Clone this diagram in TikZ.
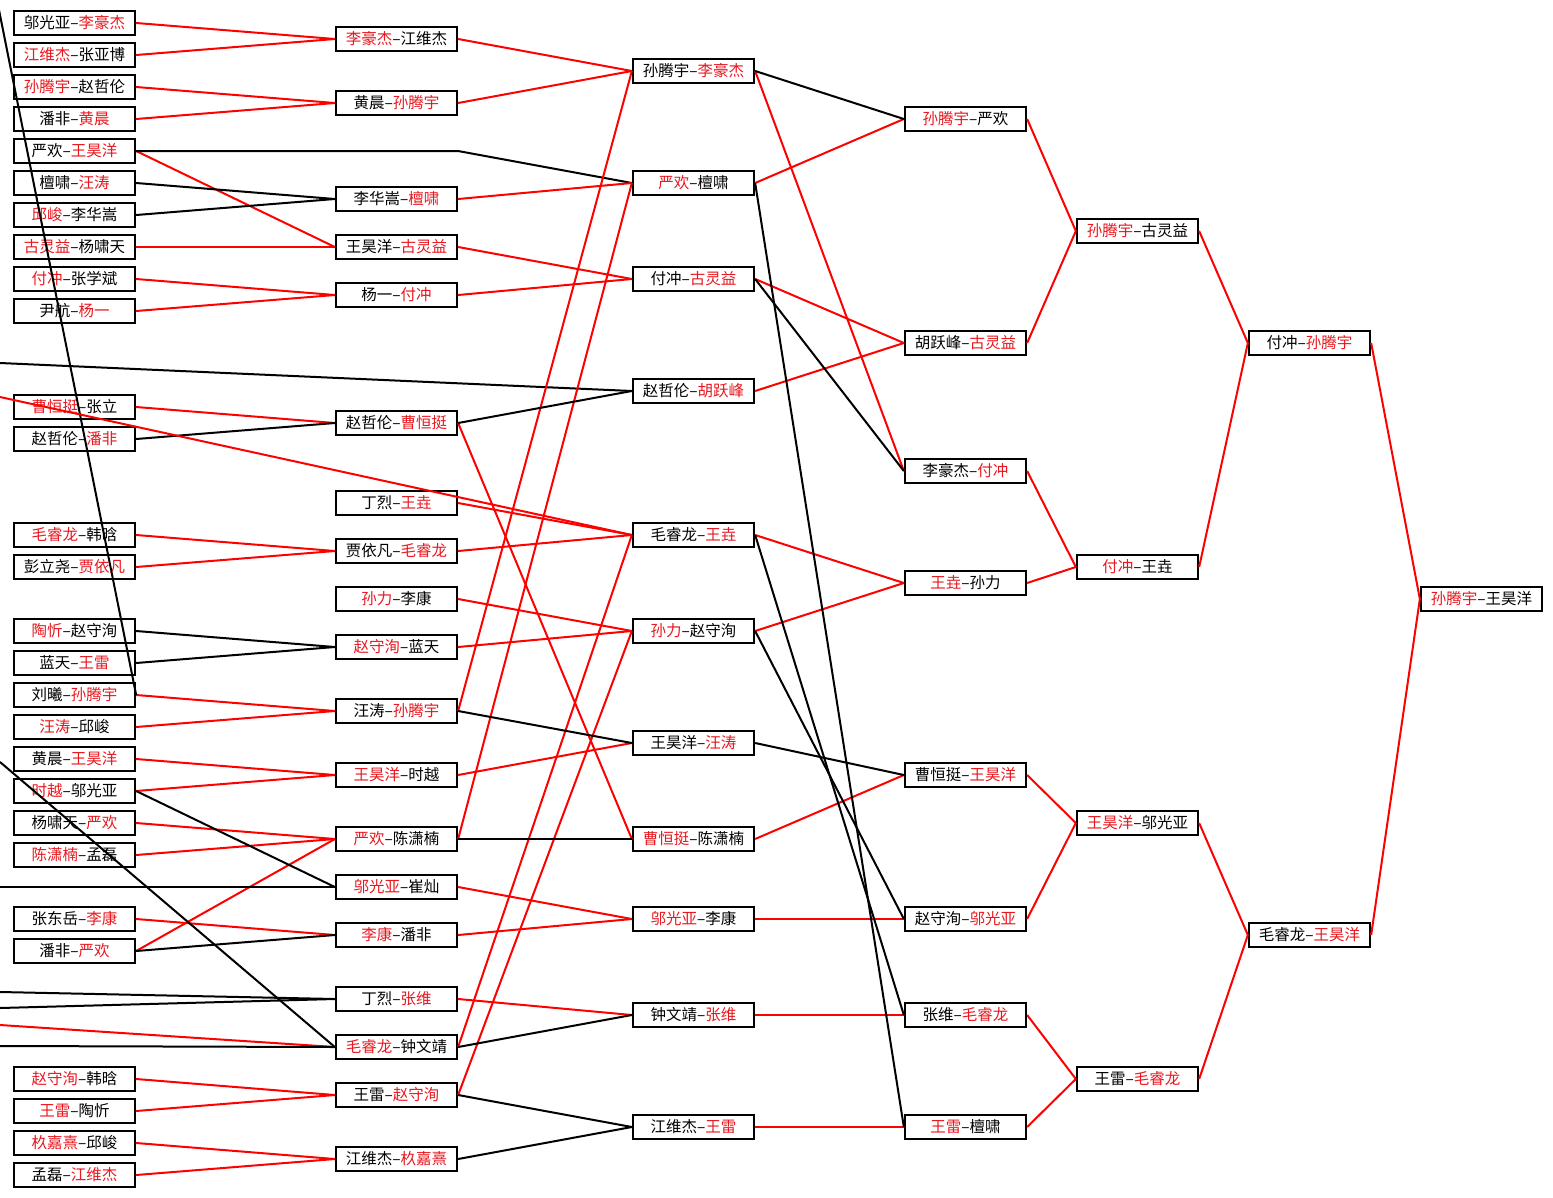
\documentclass[tikz,border=0pt]{standalone}
\usepackage{fontspec}
\setmainfont{Noto Sans CJK SC}
\definecolor{wr}{RGB}{232,24,32}
\definecolor{lr}{RGB}{255,0,0}
\newcommand{\rd}[1]{\textcolor{wr}{#1}}
\begin{document}
\begin{tikzpicture}[x=1pt,y=-1pt,
  bx/.style={draw=black, line width=2.3pt, minimum width=121pt, minimum height=23.5pt, inner sep=0pt, font=\fontsize{15.5}{17}\selectfont},
  wl/.style={draw=lr, line width=2pt},
  ll/.style={draw=black, line width=2pt}]
\useasboundingbox (0,0) rectangle (1553,1197);
\fill[white] (0,0) rectangle (1553,1197);
\clip (0,0) rectangle (1553,1197);
% column 1
\node[bx] (a0)  at (74.5,23)   {邬光亚–\rd{李豪杰}};
\node[bx] (a1)  at (74.5,55)   {\rd{江维杰}–张亚博};
\node[bx] (a2)  at (74.5,87)   {\rd{孙腾宇}–赵哲伦};
\node[bx] (a3)  at (74.5,119)  {潘非–\rd{黄晨}};
\node[bx] (a4)  at (74.5,151)  {严欢–\rd{王昊洋}};
\node[bx] (a5)  at (74.5,183)  {檀啸–\rd{汪涛}};
\node[bx] (a6)  at (74.5,215)  {\rd{邱峻}–李华嵩};
\node[bx] (a7)  at (74.5,247)  {\rd{古灵益}–杨啸天};
\node[bx] (a8)  at (74.5,279)  {\rd{付冲}–张学斌};
\node[bx] (a9)  at (74.5,311)  {尹航–\rd{杨一}};
\node[bx] (a12) at (74.5,407)  {\rd{曹恒挺}–张立};
\node[bx] (a13) at (74.5,439)  {赵哲伦–\rd{潘非}};
\node[bx] (a16) at (74.5,535)  {\rd{毛睿龙}–韩晗};
\node[bx] (a17) at (74.5,567)  {彭立尧–\rd{贾依凡}};
\node[bx] (a19) at (74.5,631)  {\rd{陶忻}–赵守洵};
\node[bx] (a20) at (74.5,663)  {蓝天–\rd{王雷}};
\node[bx] (a21) at (74.5,695)  {刘曦–\rd{孙腾宇}};
\node[bx] (a22) at (74.5,727)  {\rd{汪涛}–邱峻};
\node[bx] (a23) at (74.5,759)  {黄晨–\rd{王昊洋}};
\node[bx] (a24) at (74.5,791)  {\rd{时越}–邬光亚};
\node[bx] (a25) at (74.5,823)  {杨啸天–\rd{严欢}};
\node[bx] (a26) at (74.5,855)  {\rd{陈潇楠}–孟磊};
\node[bx] (a28) at (74.5,919)  {张东岳–\rd{李康}};
\node[bx] (a29) at (74.5,951)  {潘非–\rd{严欢}};
\node[bx] (a33) at (74.5,1079) {\rd{赵守洵}–韩晗};
\node[bx] (a34) at (74.5,1111) {\rd{王雷}–陶忻};
\node[bx] (a35) at (74.5,1143) {\rd{杦嘉熹}–邱峻};
\node[bx] (a36) at (74.5,1175) {孟磊–\rd{江维杰}};
% column 2
\node[bx] (b0)  at (396.5,39)   {\rd{李豪杰}–江维杰};
\node[bx] (b2)  at (396.5,103)  {黄晨–\rd{孙腾宇}};
\node[bx] (b5)  at (396.5,199)  {李华嵩–\rd{檀啸}};
\node[bx] (b7)  at (396.5,247)  {王昊洋–\rd{古灵益}};
\node[bx] (b8)  at (396.5,295)  {杨一–\rd{付冲}};
\node[bx] (b12) at (396.5,423)  {赵哲伦–\rd{曹恒挺}};
\node[bx] (b15) at (396.5,503)  {丁烈–\rd{王垚}};
\node[bx] (b16) at (396.5,551)  {贾依凡–\rd{毛睿龙}};
\node[bx] (b18) at (396.5,599)  {\rd{孙力}–李康};
\node[bx] (b19) at (396.5,647)  {\rd{赵守洵}–蓝天};
\node[bx] (b21) at (396.5,711)  {汪涛–\rd{孙腾宇}};
\node[bx] (b23) at (396.5,775)  {\rd{王昊洋}–时越};
\node[bx] (b25) at (396.5,839)  {\rd{严欢}–陈潇楠};
\node[bx] (b27) at (396.5,887)  {\rd{邬光亚}–崔灿};
\node[bx] (b28) at (396.5,935)  {\rd{李康}–潘非};
\node[bx] (b30) at (396.5,999)  {丁烈–\rd{张维}};
\node[bx] (b32) at (396.5,1047) {\rd{毛睿龙}–钟文靖};
\node[bx] (b33) at (396.5,1095) {王雷–\rd{赵守洵}};
\node[bx] (b35) at (396.5,1159) {江维杰–\rd{杦嘉熹}};
% column 3
\node[bx] (c1)  at (693.5,71)   {孙腾宇–\rd{李豪杰}};
\node[bx] (c5)  at (693.5,183)  {\rd{严欢}–檀啸};
\node[bx] (c8)  at (693.5,279)  {付冲–\rd{古灵益}};
\node[bx] (c11) at (693.5,391)  {赵哲伦–\rd{胡跃峰}};
\node[bx] (c16) at (693.5,535)  {毛睿龙–\rd{王垚}};
\node[bx] (c19) at (693.5,631)  {\rd{孙力}–赵守洵};
\node[bx] (c22) at (693.5,743)  {王昊洋–\rd{汪涛}};
\node[bx] (c25) at (693.5,839)  {\rd{曹恒挺}–陈潇楠};
\node[bx] (c28) at (693.5,919)  {\rd{邬光亚}–李康};
\node[bx] (c31) at (693.5,1015) {钟文靖–\rd{张维}};
\node[bx] (c34) at (693.5,1127) {江维杰–\rd{王雷}};
% column 4
\node[bx] (d3)  at (965.5,119)  {\rd{孙腾宇}–严欢};
\node[bx] (d10) at (965.5,343)  {胡跃峰–\rd{古灵益}};
\node[bx] (d14) at (965.5,471)  {李豪杰–\rd{付冲}};
\node[bx] (d17) at (965.5,583)  {\rd{王垚}–孙力};
\node[bx] (d23) at (965.5,775)  {曹恒挺–\rd{王昊洋}};
\node[bx] (d28) at (965.5,919)  {赵守洵–\rd{邬光亚}};
\node[bx] (d31) at (965.5,1015) {张维–\rd{毛睿龙}};
\node[bx] (d34) at (965.5,1127) {\rd{王雷}–檀啸};
% column 5
\node[bx] (e6)  at (1137.5,231)  {\rd{孙腾宇}–古灵益};
\node[bx] (e17) at (1137.5,567)  {\rd{付冲}–王垚};
\node[bx] (e25) at (1137.5,823)  {\rd{王昊洋}–邬光亚};
\node[bx] (e33) at (1137.5,1079) {王雷–\rd{毛睿龙}};
% column 6
\node[bx] (f10) at (1309.5,343) {付冲–\rd{孙腾宇}};
\node[bx] (f28) at (1309.5,935) {毛睿龙–\rd{王昊洋}};
% column 7
\node[bx] (g18) at (1481.5,599) {\rd{孙腾宇}–王昊洋};
% free ends
\coordinate (k4) at (458,151);
\coordinate (oA) at (-3,0);
\coordinate (oB) at (0,363);
\coordinate (oC) at (0,397);
\coordinate (oD) at (0,762);
\coordinate (oE) at (0,887);
\coordinate (oF) at (0,992);
\coordinate (oG) at (0,1008);
\coordinate (oH) at (0,1025);
\coordinate (oI) at (0,1046);
% column 1 -> column 2
\foreach \s/\t in {a0/b0,a1/b0,a2/b2,a3/b2,a4/b7,a7/b7,a8/b8,a9/b8,a12/b12,a16/b16,a17/b16,a21/b21,a22/b21,a23/b23,a24/b23,a25/b25,a26/b25,a29/b25,a28/b28,a33/b33,a34/b33,a35/b35,a36/b35}
  \draw[wl] (\s.east) -- (\t.west);
\foreach \s/\t in {a5/b5,a6/b5,a13/b12,a19/b19,a20/b19,a24/b27,a29/b28}
  \draw[ll] (\s.east) -- (\t.west);
\draw[ll] (a4.east) -- (k4) -- (c5.west);
% lines from outside
\draw[ll] (oA) -- (a21.east);
\draw[ll] (oB) -- (c11.west);
\draw[wl] (oC) -- (c16.west);
\draw[ll] (oD) -- (b32.west);
\draw[ll] (oE) -- (b27.west);
\draw[ll] (oF) -- (b30.west);
\draw[ll] (oG) -- (b30.west);
\draw[wl] (oH) -- (b32.west);
\draw[ll] (oI) -- (b32.west);
% column 2 -> column 3
\foreach \s/\t in {b0/c1,b2/c1,b21/c1,b5/c5,b25/c5,b7/c8,b8/c8,b12/c25,b15/c16,b16/c16,b32/c16,b18/c19,b19/c19,b33/c19,b23/c22,b27/c28,b28/c28,b30/c31}
  \draw[wl] (\s.east) -- (\t.west);
\foreach \s/\t in {b12/c11,b21/c22,b25/c25,b32/c31,b33/c34,b35/c34}
  \draw[ll] (\s.east) -- (\t.west);
% column 3 -> column 4
\foreach \s/\t in {c1/d14,c5/d3,c8/d10,c11/d10,c16/d17,c19/d17,c25/d23,c28/d28,c31/d31,c34/d34}
  \draw[wl] (\s.east) -- (\t.west);
\foreach \s/\t in {c1/d3,c5/d34,c8/d14,c16/d31,c19/d28,c22/d23}
  \draw[ll] (\s.east) -- (\t.west);
% later columns
\foreach \s/\t in {d3/e6,d10/e6,d14/e17,d17/e17,d23/e25,d28/e25,d31/e33,d34/e33,e6/f10,e17/f10,e25/f28,e33/f28,f10/g18,f28/g18}
  \draw[wl] (\s.east) -- (\t.west);
\end{tikzpicture}
\end{document}
